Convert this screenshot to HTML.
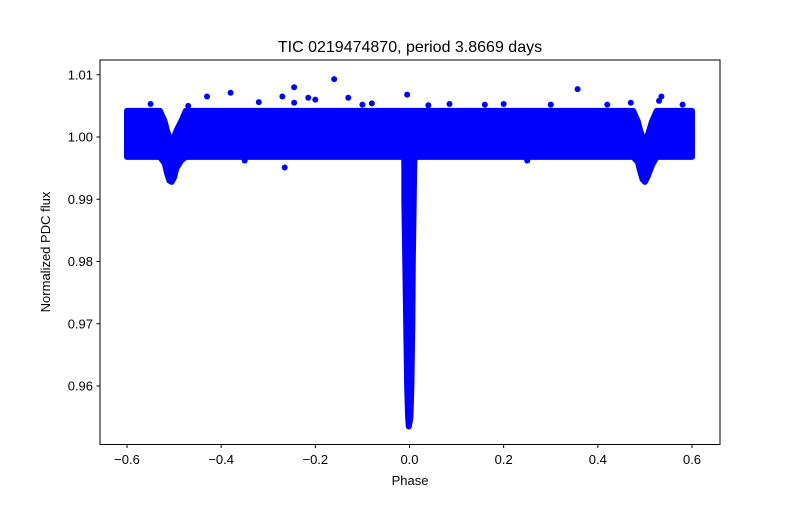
<!DOCTYPE html>
<html><head><meta charset="utf-8"><style>
body{margin:0;background:#fff;font-family:"Liberation Sans",sans-serif}
</style></head><body>
<svg id="c" width="800" height="500" xmlns="http://www.w3.org/2000/svg">
<rect width="800" height="500" fill="#fff"/>
<g id="plot"></g>
<rect x="100" y="60" width="620" height="384.5" fill="none" stroke="#000" stroke-width="1"/>
<g id="ticks" font-size="13" fill="#000"></g>
<text x="410" y="52" text-anchor="middle" font-size="16">TIC 0219474870, period 3.8669 days</text>
<text x="410" y="485" text-anchor="middle" font-size="13">Phase</text>
<text transform="translate(50,252) rotate(-90)" text-anchor="middle" font-size="13">Normalized PDC flux</text>
</svg>
<script>
const xTicks=[-0.6,-0.4,-0.2,0.0,0.2,0.4,0.6];
const xTickLabels=["−0.6","−0.4","−0.2","0.0","0.2","0.4","0.6"];
const yTicks=[0.96,0.97,0.98,0.99,1.00,1.01];
const yTickLabels=["0.96","0.97","0.98","0.99","1.00","1.01"];
// band envelope (out of eclipse + secondary eclipses)
const bandPhase=[-0.6,-0.53,-0.52,-0.515,-0.51,-0.505,-0.5,-0.495,-0.485,-0.475,-0.03,0.02,0.475,0.485,0.49,0.495,0.5,0.505,0.515,0.525,0.6];
const bandUpper=[1.0042,1.0042,1.0025,1.001,1.0,0.9998,1.0,1.001,1.0025,1.0042,1.0042,1.0042,1.0042,1.0025,1.001,1.0,0.9998,1.0,1.0025,1.0042,1.0042];
const bandLower=[0.9968,0.9968,0.9958,0.9942,0.993,0.9928,0.9935,0.995,0.9962,0.9968,0.9968,0.9968,0.9968,0.996,0.9945,0.9932,0.9928,0.9935,0.9955,0.9968,0.9968];
// primary eclipse envelope
const dipFlux=[1.0,0.995,0.99,0.98,0.97,0.96,0.955,0.9535];
const dipLeft=[-0.012,-0.011,-0.011,-0.009,-0.007,-0.005,-0.003,-0.0015];
const dipRight=[0.012,0.010,0.009,0.007,0.006,0.004,0.002,-0.0015];
// outlier points
const outPhase=[-0.16,-0.245,0.357,-0.38,-0.27,0.535,-0.245,-0.265,-0.215,-0.13,0.085,-0.55,0.47,-0.43,-0.2,0.04,-0.005,-0.08,0.2,-0.1,-0.32,0.3,0.58,-0.47,0.53,0.42,0.16,-0.35,0.25];
const outFlux=[1.0093,1.008,1.0077,1.0071,1.0065,1.0065,1.0055,0.9951,1.0063,1.0063,1.0053,1.0053,1.0055,1.0065,1.006,1.0051,1.0068,1.0054,1.0053,1.0052,1.0056,1.0052,1.0052,1.005,1.0058,1.0052,1.0052,0.9962,0.9962];
const X=p=>409.5+(p/0.2)*94.17, Y=f=>137-(f-1.0)*6225;
const ns="http://www.w3.org/2000/svg";
const plot=document.getElementById('plot'), tk=document.getElementById('ticks');
function mk(t,a,par){const e=document.createElementNS(ns,t);for(const k in a)e.setAttribute(k,a[k]);par.appendChild(e);return e;}
let pts=bandPhase.map((p,i)=>X(p)+','+Y(bandUpper[i]));
for(let i=bandPhase.length-1;i>=0;i--)pts.push(X(bandPhase[i])+','+Y(bandLower[i]));
const band=mk('polygon',{points:pts.join(' '),fill:'#0000ff',stroke:'#0000ff','stroke-width':6,'stroke-linejoin':'round'},plot);


let dp=dipFlux.map((f,i)=>X(dipLeft[i])+','+Y(f));
for(let i=dipFlux.length-1;i>=0;i--)dp.push(X(dipRight[i])+','+Y(dipFlux[i]));
const dip=mk('polygon',{points:dp.join(' '),fill:'#0000ff',stroke:'#0000ff','stroke-width':6,'stroke-linejoin':'round'},plot);


outPhase.forEach((p,i)=>{const c=mk('circle',{cx:X(p),cy:Y(outFlux[i]),r:3,fill:'#0000ff'},plot);

});
xTicks.forEach((v,i)=>{const x=X(v);const l=mk('line',{x1:x,x2:x,y1:444.5,y2:448,stroke:'#000'},tk);


const t=mk('text',{x:x,y:464,'text-anchor':'middle'},tk);t.textContent=xTickLabels[i];

});
yTicks.forEach((v,i)=>{const y=Y(v);const l=mk('line',{x1:96.5,x2:100,y1:y,y2:y,stroke:'#000'},tk);


const t=mk('text',{x:93,y:y+4.5,'text-anchor':'end'},tk);t.textContent=yTickLabels[i];

});
</script>
</body></html>
